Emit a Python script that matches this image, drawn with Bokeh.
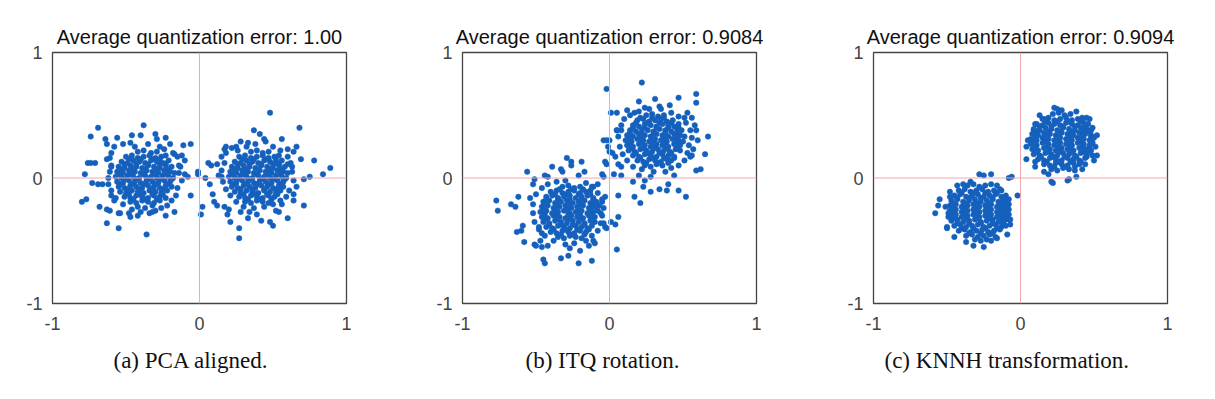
from bokeh.plotting import figure
from bokeh.layouts import row
from bokeh.models import Span, Title, Range1d, FixedTicker
from bokeh.embed import file_html
from bokeh.resources import INLINE

titles = ["Average quantization error: 1.00",
          "Average quantization error: 0.9084",
          "Average quantization error: 0.9094"]
captions = ["(a) PCA aligned.", "(b) ITQ rotation.", "(c) KNNH transformation."]
ticks = [-1, 0, 1]
tick_labels = {-1: "-1", 0: "0", 1: "1"}

# ---------------- Panel (a): PCA aligned ----------------
pca_left = [
    (-0.42,0.21),(-0.38,0.22),(-0.33,0.20),(-0.29,0.21),
    (-0.50,0.17),(-0.46,0.18),(-0.42,0.16),(-0.38,0.17),(-0.34,0.18),(-0.30,0.16),(-0.26,0.17),(-0.23,0.18),
    (-0.53,0.13),(-0.49,0.12),(-0.45,0.14),(-0.41,0.13),(-0.37,0.12),(-0.33,0.14),(-0.29,0.13),(-0.25,0.12),(-0.21,0.14),
    (-0.55,0.09),(-0.51,0.08),(-0.47,0.10),(-0.43,0.09),(-0.39,0.08),(-0.35,0.10),(-0.31,0.09),(-0.27,0.08),(-0.23,0.10),(-0.19,0.09),
    (-0.56,0.05),(-0.52,0.04),(-0.48,0.06),(-0.44,0.05),(-0.40,0.04),(-0.36,0.06),(-0.32,0.05),(-0.28,0.04),(-0.24,0.06),(-0.20,0.05),(-0.17,0.04),
    (-0.57,0.01),(-0.53,0.00),(-0.49,0.02),(-0.45,0.01),(-0.41,0.00),(-0.37,0.02),(-0.33,0.01),(-0.29,0.00),(-0.25,0.02),(-0.21,0.01),(-0.18,0.00),
    (-0.56,-0.03),(-0.52,-0.04),(-0.48,-0.02),(-0.44,-0.03),(-0.40,-0.04),(-0.36,-0.02),(-0.32,-0.03),(-0.28,-0.04),(-0.24,-0.02),(-0.20,-0.03),
    (-0.55,-0.07),(-0.51,-0.08),(-0.47,-0.06),(-0.43,-0.07),(-0.39,-0.08),(-0.35,-0.06),(-0.31,-0.07),(-0.27,-0.08),(-0.23,-0.06),(-0.19,-0.07),
    (-0.54,-0.11),(-0.50,-0.12),(-0.46,-0.10),(-0.42,-0.11),(-0.38,-0.12),(-0.34,-0.10),(-0.30,-0.11),(-0.26,-0.12),(-0.22,-0.10),
    (-0.51,-0.15),(-0.47,-0.16),(-0.43,-0.14),(-0.39,-0.15),(-0.35,-0.16),(-0.31,-0.14),(-0.27,-0.15),(-0.23,-0.16),
    (-0.47,-0.19),(-0.43,-0.20),(-0.39,-0.18),(-0.35,-0.19),(-0.31,-0.20),(-0.27,-0.18),
    (-0.42,-0.23),(-0.37,-0.24),(-0.32,-0.22),
    (-0.48,0.15),(-0.40,0.15),(-0.32,0.15),(-0.27,0.145),
    (-0.51,0.11),(-0.43,0.11),(-0.35,0.11),(-0.27,0.11),(-0.23,0.115),
    (-0.53,0.07),(-0.45,0.07),(-0.37,0.07),(-0.29,0.07),(-0.21,0.07),
    (-0.54,0.03),(-0.46,0.03),(-0.38,0.03),(-0.30,0.03),(-0.22,0.03),
    (-0.51,-0.01),(-0.43,-0.01),(-0.35,-0.01),(-0.27,-0.01),(-0.19,-0.01),
    (-0.54,-0.05),(-0.46,-0.05),(-0.38,-0.05),(-0.30,-0.05),(-0.22,-0.05),
    (-0.49,-0.09),(-0.41,-0.09),(-0.33,-0.09),(-0.25,-0.09),
    (-0.48,-0.13),(-0.40,-0.13),(-0.32,-0.13),(-0.25,-0.13),
    (-0.45,-0.17),(-0.37,-0.17),(-0.29,-0.17),
    (-0.60,0.20),(-0.58,0.25),(-0.52,0.27),(-0.47,0.28),(-0.44,0.25),(-0.35,0.27),(-0.27,0.25),(-0.24,0.23),
    (-0.18,0.20),(-0.15,0.17),(-0.14,0.10),(-0.14,0.04),(-0.12,-0.02),(-0.15,-0.08),(-0.16,-0.14),(-0.19,-0.18),
    (-0.22,-0.22),(-0.26,-0.24),(-0.30,-0.26),(-0.46,-0.25),(-0.52,-0.21),(-0.57,-0.16),(-0.60,-0.10),(-0.62,-0.05),
    (-0.61,0.05),(-0.60,0.10),(-0.63,0.15),(-0.40,-0.27),(-0.34,-0.28),
    (-0.80,-0.19),(-0.77,-0.17),(-0.78,0.03),(-0.74,0.33),(-0.69,0.40),(-0.76,0.12),(-0.74,0.12),(-0.71,0.12),
    (-0.73,-0.04),(-0.68,-0.23),(-0.63,-0.36),(-0.55,-0.40),(-0.36,-0.45),(-0.38,0.42),(-0.63,0.27),(-0.64,0.31),
    (-0.56,0.32),(-0.63,-0.25),(-0.61,-0.26),(-0.69,-0.05),(-0.66,-0.05),(-0.17,-0.27),(-0.23,-0.30),(-0.32,-0.27),
    (-0.06,-0.14),(-0.06,0.27),(-0.11,0.26),(-0.01,0.05),(-0.01,0.03),(-0.23,0.32),(-0.30,0.35),(-0.29,0.31),
    (-0.46,0.34),(-0.40,0.34),(-0.20,0.27),(-0.17,0.19),(-0.12,0.18),(-0.10,0.14),(-0.13,0.09),(-0.10,0.03),
    (-0.08,0.01),(-0.61,0.16),(-0.60,0.09),(-0.62,0.00),(-0.55,-0.28),(-0.54,-0.28),(-0.48,-0.28),(-0.47,-0.31),
    (-0.42,-0.30),(-0.60,-0.14),(-0.58,-0.18),
]
pca_right = [
    (0.35,0.21),(0.39,0.22),(0.43,0.20),(0.47,0.21),
    (0.27,0.17),(0.31,0.18),(0.35,0.16),(0.39,0.17),(0.43,0.18),(0.47,0.16),(0.51,0.17),(0.54,0.18),
    (0.24,0.13),(0.28,0.12),(0.32,0.14),(0.36,0.13),(0.40,0.12),(0.44,0.14),(0.48,0.13),(0.52,0.12),(0.56,0.14),
    (0.22,0.09),(0.26,0.08),(0.30,0.10),(0.34,0.09),(0.38,0.08),(0.42,0.10),(0.46,0.09),(0.50,0.08),(0.54,0.10),(0.58,0.09),
    (0.21,0.05),(0.25,0.04),(0.29,0.06),(0.33,0.05),(0.37,0.04),(0.41,0.06),(0.45,0.05),(0.49,0.04),(0.53,0.06),(0.57,0.05),(0.60,0.04),
    (0.20,0.01),(0.24,0.00),(0.28,0.02),(0.32,0.01),(0.36,0.00),(0.40,0.02),(0.44,0.01),(0.48,0.00),(0.52,0.02),(0.56,0.01),(0.59,0.00),
    (0.21,-0.03),(0.25,-0.04),(0.29,-0.02),(0.33,-0.03),(0.37,-0.04),(0.41,-0.02),(0.45,-0.03),(0.49,-0.04),(0.53,-0.02),(0.57,-0.03),
    (0.22,-0.07),(0.26,-0.08),(0.30,-0.06),(0.34,-0.07),(0.38,-0.08),(0.42,-0.06),(0.46,-0.07),(0.50,-0.08),(0.54,-0.06),(0.57,-0.07),
    (0.24,-0.11),(0.28,-0.12),(0.32,-0.10),(0.36,-0.11),(0.40,-0.12),(0.44,-0.10),(0.48,-0.11),(0.52,-0.12),(0.55,-0.10),
    (0.27,-0.15),(0.31,-0.16),(0.35,-0.14),(0.39,-0.15),(0.43,-0.16),(0.47,-0.14),(0.51,-0.15),
    (0.31,-0.19),(0.35,-0.20),(0.39,-0.18),(0.43,-0.19),(0.47,-0.20),
    (0.29,0.15),(0.37,0.15),(0.45,0.15),(0.52,0.145),
    (0.26,0.11),(0.34,0.11),(0.42,0.11),(0.50,0.11),(0.54,0.115),
    (0.24,0.07),(0.32,0.07),(0.40,0.07),(0.48,0.07),(0.56,0.07),
    (0.23,0.03),(0.31,0.03),(0.39,0.03),(0.47,0.03),(0.55,0.03),
    (0.26,-0.01),(0.34,-0.01),(0.42,-0.01),(0.50,-0.01),(0.58,-0.01),
    (0.23,-0.05),(0.31,-0.05),(0.39,-0.05),(0.47,-0.05),(0.55,-0.05),
    (0.28,-0.09),(0.36,-0.09),(0.44,-0.09),(0.52,-0.09),
    (0.30,-0.13),(0.38,-0.13),(0.46,-0.13),(0.53,-0.13),
    (0.33,-0.17),(0.41,-0.17),(0.49,-0.17),
    (0.18,0.20),(0.22,0.24),(0.26,0.22),(0.32,0.25),(0.38,0.27),(0.50,0.25),(0.55,0.22),(0.60,0.17),(0.62,0.12),
    (0.63,0.05),(0.64,-0.02),(0.61,-0.10),(0.59,-0.15),(0.55,-0.18),(0.50,-0.21),(0.44,-0.23),(0.37,-0.24),
    (0.30,-0.23),(0.25,-0.19),(0.21,-0.14),(0.18,-0.09),(0.16,-0.03),(0.15,0.06),(0.17,0.12),(0.20,-0.25),
    (0.28,-0.27),(0.52,-0.26),
    (0.48,0.52),(0.68,0.40),(0.37,0.38),(0.89,0.08),(0.84,0.03),(0.78,0.14),(0.71,-0.01),(0.75,0.01),
    (0.71,-0.22),(0.60,-0.32),(0.50,-0.38),(0.48,-0.35),(0.27,-0.48),(0.27,-0.40),(0.21,-0.35),(0.10,-0.19),
    (0.12,-0.22),(0.09,-0.13),(0.07,-0.05),(0.04,0.00),(0.06,0.12),(0.08,0.10),(0.15,0.01),(0.13,0.02),
    (0.17,-0.23),(0.19,-0.29),(0.33,-0.32),(0.34,-0.27),(0.39,-0.29),(0.42,-0.34),(0.54,-0.27),(0.56,-0.21),
    (0.64,-0.13),(0.66,-0.07),(0.64,-0.18),(0.60,0.23),(0.66,0.25),(0.64,0.21),(0.56,0.31),(0.41,0.35),
    (0.44,0.31),(0.45,0.29),(0.25,0.25),(0.28,0.29),(0.33,0.28),(0.17,0.23),(0.18,0.25),(0.12,0.11),
    (0.15,0.17),(0.69,0.15),(0.60,0.11),(0.63,0.09),(0.01,-0.29),(0.02,-0.23),
]

# ---------------- Panel (b): ITQ rotation ----------------
itq_left = [
    (-0.32,-0.07),(-0.28,-0.06),(-0.24,-0.08),(-0.20,-0.07),
    (-0.40,-0.11),(-0.36,-0.10),(-0.32,-0.12),(-0.28,-0.11),(-0.24,-0.10),(-0.20,-0.12),(-0.16,-0.11),(-0.13,-0.10),
    (-0.43,-0.15),(-0.39,-0.14),(-0.35,-0.16),(-0.31,-0.15),(-0.27,-0.14),(-0.23,-0.16),(-0.19,-0.15),(-0.15,-0.14),(-0.11,-0.16),
    (-0.45,-0.19),(-0.41,-0.18),(-0.37,-0.20),(-0.33,-0.19),(-0.29,-0.18),(-0.25,-0.20),(-0.21,-0.19),(-0.17,-0.18),(-0.13,-0.20),(-0.09,-0.19),
    (-0.46,-0.23),(-0.42,-0.22),(-0.38,-0.24),(-0.34,-0.23),(-0.30,-0.22),(-0.26,-0.24),(-0.22,-0.23),(-0.18,-0.22),(-0.14,-0.24),(-0.10,-0.23),(-0.07,-0.22),
    (-0.47,-0.27),(-0.43,-0.26),(-0.39,-0.28),(-0.35,-0.27),(-0.31,-0.26),(-0.27,-0.28),(-0.23,-0.27),(-0.19,-0.26),(-0.15,-0.28),(-0.11,-0.27),(-0.08,-0.26),
    (-0.46,-0.31),(-0.42,-0.32),(-0.38,-0.30),(-0.34,-0.31),(-0.30,-0.32),(-0.26,-0.30),(-0.22,-0.31),(-0.18,-0.32),(-0.14,-0.30),(-0.10,-0.31),
    (-0.45,-0.35),(-0.41,-0.36),(-0.37,-0.34),(-0.33,-0.35),(-0.29,-0.36),(-0.25,-0.34),(-0.21,-0.35),(-0.17,-0.36),(-0.13,-0.34),(-0.10,-0.35),
    (-0.43,-0.39),(-0.39,-0.40),(-0.35,-0.38),(-0.31,-0.39),(-0.27,-0.40),(-0.23,-0.38),(-0.19,-0.39),(-0.15,-0.40),(-0.12,-0.38),
    (-0.40,-0.43),(-0.36,-0.44),(-0.32,-0.42),(-0.28,-0.43),(-0.24,-0.44),(-0.20,-0.42),(-0.16,-0.43),
    (-0.35,-0.47),(-0.31,-0.48),(-0.27,-0.46),(-0.23,-0.47),(-0.19,-0.48),
    (-0.34,-0.09),(-0.26,-0.09),(-0.18,-0.09),
    (-0.37,-0.13),(-0.29,-0.13),(-0.21,-0.13),(-0.13,-0.13),
    (-0.43,-0.17),(-0.35,-0.17),(-0.27,-0.17),(-0.19,-0.17),(-0.11,-0.17),
    (-0.44,-0.21),(-0.36,-0.21),(-0.28,-0.21),(-0.20,-0.21),(-0.12,-0.21),
    (-0.45,-0.25),(-0.37,-0.25),(-0.29,-0.25),(-0.21,-0.25),(-0.13,-0.25),
    (-0.44,-0.29),(-0.36,-0.29),(-0.28,-0.29),(-0.20,-0.29),(-0.12,-0.29),
    (-0.44,-0.33),(-0.36,-0.33),(-0.28,-0.33),(-0.20,-0.33),(-0.12,-0.33),
    (-0.41,-0.37),(-0.33,-0.37),(-0.25,-0.37),(-0.17,-0.37),
    (-0.38,-0.41),(-0.30,-0.41),(-0.22,-0.41),(-0.14,-0.41),
    (-0.33,-0.45),(-0.25,-0.45),(-0.17,-0.45),
    (-0.50,-0.13),(-0.46,-0.08),(-0.42,-0.05),(-0.36,-0.03),(-0.30,-0.02),(-0.16,-0.04),(-0.12,-0.07),(-0.08,-0.12),
    (-0.05,-0.17),(-0.04,-0.24),(-0.05,-0.30),(-0.06,-0.36),(-0.08,-0.42),(-0.12,-0.46),(-0.16,-0.50),(-0.24,-0.52),
    (-0.30,-0.53),(-0.38,-0.50),(-0.44,-0.46),(-0.48,-0.41),(-0.51,-0.35),(-0.52,-0.28),(-0.52,-0.21),(-0.54,-0.16),
    (-0.42,-0.54),(-0.27,-0.56),(-0.11,-0.50),
    (-0.77,-0.18),(-0.76,-0.26),(-0.67,-0.21),(-0.64,-0.23),(-0.62,-0.15),(-0.63,-0.43),(-0.60,-0.42),(-0.58,-0.51),
    (-0.59,-0.38),(-0.56,0.05),(-0.51,-0.01),(-0.52,-0.05),(-0.51,-0.53),(-0.50,-0.54),(-0.47,-0.50),(-0.46,-0.55),
    (-0.45,-0.65),(-0.44,-0.68),(-0.39,0.09),(-0.33,-0.64),(-0.28,-0.62),(-0.21,-0.68),(-0.12,-0.66),(-0.20,-0.58),
    (-0.14,-0.54),(-0.10,-0.52),(-0.29,0.16),(-0.26,0.13),(-0.26,0.10),(-0.19,0.13),(-0.33,0.07),(-0.32,0.05),
    (-0.21,0.02),(-0.17,0.05),(-0.44,0.02),(-0.42,0.01),(-0.05,0.03),(-0.04,0.01),(-0.04,-0.36),(0.01,-0.35),
    (0.04,-0.37),(0.06,-0.31),(0.05,-0.57),(-0.03,-0.15),(-0.05,-0.19),(-0.08,-0.05),(-0.11,-0.07),(-0.06,-0.28),
    (-0.03,-0.39),(-0.02,-0.40),(-0.48,-0.39),(-0.46,-0.44),
]
itq_right = [
    (0.25,0.50),(0.29,0.51),(0.33,0.49),(0.37,0.50),
    (0.19,0.46),(0.23,0.47),(0.27,0.45),(0.31,0.46),(0.35,0.47),(0.39,0.45),(0.43,0.46),
    (0.16,0.42),(0.20,0.41),(0.24,0.43),(0.28,0.42),(0.32,0.41),(0.36,0.43),(0.40,0.42),(0.44,0.41),(0.47,0.43),
    (0.14,0.38),(0.18,0.37),(0.22,0.39),(0.26,0.38),(0.30,0.37),(0.34,0.39),(0.38,0.38),(0.42,0.37),(0.46,0.39),(0.49,0.38),
    (0.12,0.34),(0.16,0.33),(0.20,0.35),(0.24,0.34),(0.28,0.33),(0.32,0.35),(0.36,0.34),(0.40,0.33),(0.44,0.35),(0.48,0.34),(0.51,0.33),
    (0.11,0.30),(0.15,0.29),(0.19,0.31),(0.23,0.30),(0.27,0.29),(0.31,0.31),(0.35,0.30),(0.39,0.29),(0.43,0.31),(0.47,0.30),(0.50,0.29),
    (0.12,0.26),(0.16,0.25),(0.20,0.27),(0.24,0.26),(0.28,0.25),(0.32,0.27),(0.36,0.26),(0.40,0.25),(0.44,0.27),(0.48,0.26),
    (0.13,0.22),(0.17,0.21),(0.21,0.23),(0.25,0.22),(0.29,0.21),(0.33,0.23),(0.37,0.22),(0.41,0.21),(0.45,0.23),(0.48,0.22),
    (0.16,0.18),(0.20,0.17),(0.24,0.19),(0.28,0.18),(0.32,0.17),(0.36,0.19),(0.40,0.18),(0.44,0.17),
    (0.19,0.14),(0.23,0.13),(0.27,0.15),(0.31,0.14),(0.35,0.13),(0.39,0.15),(0.42,0.14),
    (0.24,0.10),(0.28,0.09),(0.32,0.11),(0.36,0.10),
    (0.21,0.48),(0.29,0.48),(0.37,0.48),
    (0.18,0.44),(0.26,0.44),(0.34,0.44),(0.42,0.44),
    (0.16,0.40),(0.24,0.40),(0.32,0.40),(0.40,0.40),(0.47,0.40),
    (0.14,0.36),(0.22,0.36),(0.30,0.36),(0.38,0.36),(0.46,0.36),
    (0.13,0.32),(0.21,0.32),(0.29,0.32),(0.37,0.32),(0.45,0.32),
    (0.14,0.28),(0.22,0.28),(0.30,0.28),(0.38,0.28),(0.46,0.28),
    (0.15,0.24),(0.23,0.24),(0.31,0.24),(0.39,0.24),(0.46,0.24),
    (0.18,0.20),(0.26,0.20),(0.34,0.20),(0.42,0.20),
    (0.21,0.16),(0.29,0.16),(0.37,0.16),(0.44,0.16),
    (0.25,0.12),(0.33,0.12),(0.40,0.12),
    (0.08,0.42),(0.10,0.47),(0.14,0.50),(0.20,0.53),(0.27,0.55),(0.35,0.55),(0.42,0.52),(0.47,0.49),(0.52,0.44),
    (0.55,0.38),(0.56,0.32),(0.54,0.26),(0.53,0.20),(0.51,0.14),(0.47,0.10),(0.42,0.08),(0.38,0.05),(0.30,0.05),
    (0.22,0.07),(0.16,0.09),(0.12,0.14),(0.09,0.19),(0.07,0.25),(0.06,0.33),(0.05,0.38),(0.44,0.02),(0.28,0.01),
    (0.20,0.02),
    (-0.02,0.71),(0.22,0.76),(0.59,0.67),(0.59,0.60),(0.47,0.64),(0.67,0.33),(0.65,0.19),(0.62,0.07),
    (0.59,0.06),(0.52,-0.15),(0.47,-0.10),(0.39,-0.10),(0.40,-0.05),(0.34,-0.09),(0.28,-0.11),(0.21,-0.20),
    (0.17,-0.15),(0.16,-0.03),(0.23,-0.07),(0.24,-0.02),(0.06,-0.14),(0.03,0.03),(0.08,0.02),(-0.03,0.13),
    (-0.02,0.11),(-0.04,0.30),(-0.02,0.30),(0.00,0.30),(-0.01,0.25),(0.00,0.21),(0.01,0.52),(0.05,0.52),
    (0.12,0.54),(0.17,0.52),(0.20,0.61),(0.24,0.56),(0.31,0.63),(0.34,0.57),(0.41,0.58),(0.51,0.48),
    (0.53,0.52),(0.56,0.48),(0.58,0.42),(0.59,0.38),(0.60,0.30),(0.56,0.18),(0.55,0.17),(0.57,0.23),
    (0.02,0.20),(0.04,0.17),(0.06,0.11),(0.08,0.09),(0.05,0.38),(0.08,0.38),
]

# ---------------- Panel (c): KNNH transformation ----------------
knnh_left = [
    (-0.36,-0.06),(-0.32,-0.05),(-0.28,-0.07),(-0.24,-0.06),(-0.20,-0.05),
    (-0.42,-0.10),(-0.38,-0.09),(-0.34,-0.11),(-0.30,-0.10),(-0.26,-0.09),(-0.22,-0.11),(-0.18,-0.10),(-0.14,-0.09),
    (-0.45,-0.14),(-0.41,-0.13),(-0.37,-0.15),(-0.33,-0.14),(-0.29,-0.13),(-0.25,-0.15),(-0.21,-0.14),(-0.17,-0.13),(-0.13,-0.15),(-0.10,-0.14),
    (-0.47,-0.18),(-0.43,-0.17),(-0.39,-0.19),(-0.35,-0.18),(-0.31,-0.17),(-0.27,-0.19),(-0.23,-0.18),(-0.19,-0.17),(-0.15,-0.19),(-0.11,-0.18),(-0.08,-0.17),
    (-0.48,-0.22),(-0.44,-0.21),(-0.40,-0.23),(-0.36,-0.22),(-0.32,-0.21),(-0.28,-0.23),(-0.24,-0.22),(-0.20,-0.21),(-0.16,-0.23),(-0.12,-0.22),(-0.08,-0.21),
    (-0.48,-0.26),(-0.44,-0.25),(-0.40,-0.27),(-0.36,-0.26),(-0.32,-0.25),(-0.28,-0.27),(-0.24,-0.26),(-0.20,-0.25),(-0.16,-0.27),(-0.12,-0.26),(-0.08,-0.25),
    (-0.48,-0.30),(-0.44,-0.29),(-0.40,-0.31),(-0.36,-0.30),(-0.32,-0.29),(-0.28,-0.31),(-0.24,-0.30),(-0.20,-0.29),(-0.16,-0.31),(-0.12,-0.30),(-0.08,-0.29),
    (-0.47,-0.34),(-0.43,-0.33),(-0.39,-0.35),(-0.35,-0.34),(-0.31,-0.33),(-0.27,-0.35),(-0.23,-0.34),(-0.19,-0.33),(-0.15,-0.35),(-0.11,-0.34),(-0.08,-0.33),
    (-0.45,-0.38),(-0.41,-0.37),(-0.37,-0.39),(-0.33,-0.38),(-0.29,-0.37),(-0.25,-0.39),(-0.21,-0.38),(-0.17,-0.37),(-0.13,-0.39),(-0.10,-0.38),
    (-0.42,-0.42),(-0.38,-0.41),(-0.34,-0.43),(-0.30,-0.42),(-0.26,-0.41),(-0.22,-0.43),(-0.18,-0.42),(-0.14,-0.41),
    (-0.37,-0.46),(-0.33,-0.45),(-0.29,-0.47),(-0.25,-0.46),(-0.21,-0.45),(-0.17,-0.47),
    (-0.31,-0.49),(-0.27,-0.50),(-0.23,-0.49),
    (-0.40,-0.12),(-0.32,-0.12),(-0.24,-0.12),(-0.16,-0.12),
    (-0.43,-0.16),(-0.35,-0.16),(-0.27,-0.16),(-0.19,-0.16),(-0.12,-0.16),
    (-0.46,-0.20),(-0.38,-0.20),(-0.30,-0.20),(-0.22,-0.20),(-0.14,-0.20),(-0.10,-0.20),
    (-0.46,-0.24),(-0.38,-0.24),(-0.30,-0.24),(-0.22,-0.24),(-0.14,-0.24),(-0.10,-0.24),
    (-0.46,-0.28),(-0.38,-0.28),(-0.30,-0.28),(-0.22,-0.28),(-0.14,-0.28),(-0.10,-0.28),
    (-0.45,-0.32),(-0.37,-0.32),(-0.29,-0.32),(-0.21,-0.32),(-0.13,-0.32),(-0.10,-0.32),
    (-0.43,-0.36),(-0.35,-0.36),(-0.27,-0.36),(-0.19,-0.36),(-0.12,-0.36),
    (-0.40,-0.40),(-0.32,-0.40),(-0.24,-0.40),(-0.16,-0.40),
    (-0.35,-0.44),(-0.27,-0.44),(-0.19,-0.44),
    (-0.58,-0.28),(-0.56,-0.22),(-0.55,-0.17),(-0.51,-0.23),(-0.49,-0.28),(-0.49,-0.31),(-0.50,-0.39),(-0.50,-0.40),
    (-0.45,-0.47),(-0.37,-0.51),(-0.32,-0.54),(-0.25,-0.55),(-0.20,-0.50),(-0.16,-0.48),(-0.09,-0.45),(-0.07,-0.37),
    (-0.07,-0.33),(-0.09,-0.23),(-0.11,-0.17),(-0.16,-0.06),(-0.13,-0.10),(-0.20,0.03),(-0.25,0.02),(-0.28,0.03),
    (-0.08,0.00),(-0.06,0.01),(-0.02,-0.14),(-0.34,-0.03),(-0.39,-0.05),(-0.43,-0.06),(-0.48,-0.11),(-0.48,-0.15),
]
knnh_right = [
    (0.22,0.51),(0.26,0.52),(0.30,0.50),(0.34,0.51),
    (0.15,0.47),(0.19,0.48),(0.23,0.46),(0.27,0.47),(0.31,0.48),(0.35,0.46),(0.39,0.47),(0.42,0.48),
    (0.11,0.43),(0.15,0.42),(0.19,0.44),(0.23,0.43),(0.27,0.42),(0.31,0.44),(0.35,0.43),(0.39,0.42),(0.43,0.44),(0.46,0.43),
    (0.09,0.39),(0.13,0.38),(0.17,0.40),(0.21,0.39),(0.25,0.38),(0.29,0.40),(0.33,0.39),(0.37,0.38),(0.41,0.40),(0.45,0.39),(0.48,0.38),
    (0.08,0.35),(0.12,0.34),(0.16,0.36),(0.20,0.35),(0.24,0.34),(0.28,0.36),(0.32,0.35),(0.36,0.34),(0.40,0.36),(0.44,0.35),(0.48,0.34),
    (0.07,0.31),(0.11,0.30),(0.15,0.32),(0.19,0.31),(0.23,0.30),(0.27,0.32),(0.31,0.31),(0.35,0.30),(0.39,0.32),(0.43,0.31),(0.47,0.30),(0.50,0.32),
    (0.07,0.27),(0.11,0.26),(0.15,0.28),(0.19,0.27),(0.23,0.26),(0.27,0.28),(0.31,0.27),(0.35,0.26),(0.39,0.28),(0.43,0.27),(0.47,0.26),(0.49,0.28),
    (0.08,0.23),(0.12,0.22),(0.16,0.24),(0.20,0.23),(0.24,0.22),(0.28,0.24),(0.32,0.23),(0.36,0.22),(0.40,0.24),(0.44,0.23),(0.48,0.22),
    (0.09,0.19),(0.13,0.18),(0.17,0.20),(0.21,0.19),(0.25,0.18),(0.29,0.20),(0.33,0.19),(0.37,0.18),(0.41,0.20),(0.45,0.19),(0.49,0.18),
    (0.12,0.15),(0.16,0.14),(0.20,0.16),(0.24,0.15),(0.28,0.14),(0.32,0.16),(0.36,0.15),(0.40,0.14),(0.44,0.16),
    (0.16,0.11),(0.20,0.10),(0.24,0.12),(0.28,0.11),(0.32,0.10),(0.36,0.12),(0.40,0.11),
    (0.21,0.07),(0.25,0.06),(0.29,0.08),(0.33,0.07),(0.37,0.06),
    (0.17,0.45),(0.25,0.45),(0.33,0.45),(0.41,0.45),
    (0.13,0.41),(0.21,0.41),(0.29,0.41),(0.37,0.41),(0.44,0.41),
    (0.11,0.37),(0.19,0.37),(0.27,0.37),(0.35,0.37),(0.43,0.37),(0.47,0.37),
    (0.10,0.33),(0.18,0.33),(0.26,0.33),(0.34,0.33),(0.42,0.33),(0.48,0.33),
    (0.09,0.29),(0.17,0.29),(0.25,0.29),(0.33,0.29),(0.41,0.29),(0.48,0.29),
    (0.10,0.25),(0.18,0.25),(0.26,0.25),(0.34,0.25),(0.42,0.25),(0.47,0.25),
    (0.11,0.21),(0.19,0.21),(0.27,0.21),(0.35,0.21),(0.43,0.21),(0.47,0.21),
    (0.14,0.17),(0.22,0.17),(0.30,0.17),(0.38,0.17),(0.45,0.17),
    (0.18,0.13),(0.26,0.13),(0.34,0.13),(0.41,0.13),
    (0.23,0.09),(0.31,0.09),(0.37,0.09),
    (0.04,0.15),(0.04,0.25),(0.05,0.30),(0.09,0.38),(0.10,0.43),(0.13,0.50),(0.16,0.47),(0.23,0.56),
    (0.25,0.55),(0.28,0.54),(0.38,0.53),(0.45,0.48),(0.47,0.47),(0.49,0.40),(0.52,0.34),(0.51,0.25),
    (0.52,0.18),(0.50,0.14),(0.44,0.11),(0.42,0.07),(0.38,0.01),(0.33,-0.01),(0.32,-0.02),(0.22,-0.04),
    (0.21,-0.03),(0.19,0.03),(0.16,0.05),(0.10,0.09),(0.10,0.13),
]

panels_data = [pca_left + pca_right, itq_left + itq_right, knnh_left + knnh_right]

DOT = "#1560BD"
AXIS0 = "#F2A9AE"
FRAME = "#444444"
TICKC = "#444444"

borders = [(52, 64), (52, 64), (53, 32)]
caption_offsets = [61, 63, 11]

figs = []
for i in range(3):
    bl, br = borders[i]
    p = figure(frame_width=294, frame_height=251,
               x_range=Range1d(-1, 1), y_range=Range1d(-1, 1),
               output_backend="svg", toolbar_location=None,
               min_border_left=bl, min_border_right=br,
               min_border_top=52, min_border_bottom=80)
    p.title.text = titles[i]
    p.title.align = "center"
    p.title.text_font = "Liberation Sans"
    p.title.text_font_size = "20px"
    p.title.text_font_style = "normal"
    p.title.text_color = "#111111"
    p.title.standoff = 9

    p.grid.visible = False
    p.outline_line_color = FRAME
    p.outline_line_width = 1.3
    p.outline_line_alpha = 1.0
    for ax in (p.xaxis, p.yaxis):
        ax.ticker = FixedTicker(ticks=ticks)
        ax.major_label_overrides = tick_labels
        ax.axis_line_color = None
        ax.major_tick_line_color = None
        ax.minor_tick_line_color = None
        ax.major_label_text_font = "Liberation Sans"
        ax.major_label_text_font_size = "18px"
        ax.major_label_text_color = TICKC
    p.xaxis.major_label_standoff = 7
    p.yaxis.major_label_standoff = 4

    p.add_layout(Span(location=0, dimension="width", line_color=AXIS0, line_width=1))
    p.add_layout(Span(location=0, dimension="height", line_color=AXIS0, line_width=1))

    pts = panels_data[i]
    xs = [q[0] for q in pts]
    ys = [q[1] for q in pts]
    p.scatter(xs, ys, size=5.5, fill_color=DOT, line_color=DOT, line_width=0.5)

    cap = Title(text=captions[i], align="left", text_font="Liberation Serif",
                text_font_size="23px", text_font_style="normal", text_color="#111111",
                standoff=27, offset=caption_offsets[i])
    p.add_layout(cap, "below")
    figs.append(p)

layout = row(*figs, spacing=0)
open("out.html", "w").write(file_html(layout, INLINE))
